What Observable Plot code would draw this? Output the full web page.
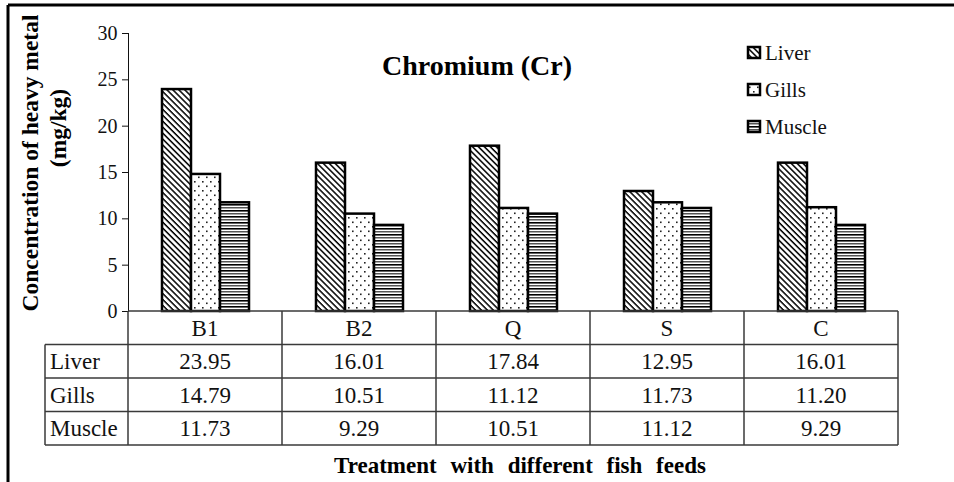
<!DOCTYPE html>
<html><head><meta charset="utf-8">
<script src="https://cdn.jsdelivr.net/npm/d3@7"></script>
<script src="https://cdn.jsdelivr.net/npm/@observablehq/plot@0.6"></script>
<style>body{margin:0;background:#fff;} svg{display:block}</style>
</head><body><div id="chart"></div>
<script>
const categories = ["B1", "B2", "Q", "S", "C"];
const organs = ["Liver", "Gills", "Muscle"];
const liver = [23.95, 16.01, 17.84, 12.95, 16.01];
const gills = [14.79, 10.51, 11.12, 11.73, 11.20];
const muscle = [11.73, 9.29, 10.51, 11.12, 9.29];
const yTicks = [0, 5, 10, 15, 20, 25, 30];
const titleText = "Chromium (Cr)";
const yLabel1 = "Concentration of heavy metal";
const yLabel2 = "(mg/kg)";
const xLabel = "Treatment with different fish feeds";

const series = [liver, gills, muscle];
const rows = categories.flatMap((c, i) => organs.map((o, j) => ({cat: c, organ: o, value: series[j][i]})));

const serif = "Liberation Serif, Times New Roman, serif";
const W = 954, H = 482;
const plot = Plot.plot({
  width: W, height: H,
  marginTop: 33, marginBottom: 171, marginLeft: 127, marginRight: 56,
  style: {fontFamily: serif, fontSize: "20px", color: "#111", background: "#fff", overflow: "visible"},
  facet: {data: rows, x: "cat"},
  fx: {domain: categories, padding: 0, axis: null},
  x: {domain: organs, paddingInner: 0, paddingOuter: 1.07, axis: null},
  y: {domain: [0, 30], ticks: yTicks, tickSize: 6, tickPadding: 5, label: null, line: true, tickFormat: d => d},
  color: {domain: organs, range: organs.map(o => `url(#pat-${o})`)},
  marks: [
    Plot.barY(rows, {x: "organ", y: "value", fill: "organ", stroke: "#000", strokeWidth: 2.5})
  ]
});
document.getElementById("chart").appendChild(plot);

const svg = d3.select(plot);
svg.selectAll("g[aria-label^='y-axis'] text").attr("font-size", 20).attr("font-family", serif).style("font-size", "20px");
svg.selectAll("g[aria-label^='y-axis']").attr("font-size", 20);

const defs = svg.insert("defs", ":first-child");
// Liver: diagonal hatching
let p = defs.append("pattern").attr("id", "pat-Liver").attr("patternUnits", "userSpaceOnUse")
  .attr("width", 4.2).attr("height", 4.2).attr("patternTransform", "rotate(45)");
p.append("rect").attr("width", 4.2).attr("height", 4.2).attr("fill", "#fff");
p.append("rect").attr("width", 4.2).attr("height", 1.5).attr("fill", "#000");
// Gills: sparse dots
p = defs.append("pattern").attr("id", "pat-Gills").attr("patternUnits", "userSpaceOnUse")
  .attr("width", 8).attr("height", 9);
p.append("rect").attr("width", 8).attr("height", 9).attr("fill", "#fff");
p.append("rect").attr("x", 1).attr("y", 1).attr("width", 1.6).attr("height", 1.6).attr("fill", "#222");
p.append("rect").attr("x", 5).attr("y", 5.5).attr("width", 1.6).attr("height", 1.6).attr("fill", "#222");
// Muscle: horizontal lines
p = defs.append("pattern").attr("id", "pat-Muscle").attr("patternUnits", "userSpaceOnUse")
  .attr("width", 6).attr("height", 6);
p.append("rect").attr("width", 6).attr("height", 6).attr("fill", "#fff");
p.append("rect").attr("y", 0).attr("width", 6).attr("height", 1.6).attr("fill", "#000");
p.append("rect").attr("y", 3).attr("width", 6).attr("height", 1.5).attr("fill", "#555");

const fx = plot.scale("fx"), y = plot.scale("y");
const bw = fx.bandwidth;
const left = fx.apply(categories[0]);
const right = fx.apply(categories[categories.length - 1]) + bw;
const yTop = y.apply(0);
const rowH = 33.5;
const firstColLeft = 45;
const g = svg.append("g");
const lineColor = "#3a3a3a";
const ln = (x1, y1, x2, y2) => g.append("line").attr("x1", x1).attr("y1", y1).attr("x2", x2).attr("y2", y2)
  .attr("stroke", lineColor).attr("stroke-width", 1.5);
ln(left, yTop, right, yTop);
for (let r = 1; r <= organs.length + 1; r++) ln(firstColLeft, yTop + r * rowH, right, yTop + r * rowH);
ln(firstColLeft, yTop + rowH, firstColLeft, yTop + (organs.length + 1) * rowH);
categories.forEach(c => ln(fx.apply(c), yTop, fx.apply(c), yTop + (organs.length + 1) * rowH));
ln(right, yTop, right, yTop + (organs.length + 1) * rowH);

const txt = (s, x, yy, anchor) => g.append("text").attr("x", x).attr("y", yy).attr("dy", "0.35em")
  .attr("text-anchor", anchor).attr("font-family", serif).attr("font-size", 23).attr("fill", "#111").text(s);
categories.forEach((c, i) => {
  const cx = fx.apply(c) + bw / 2;
  txt(c, cx, yTop + rowH / 2, "middle");
  series.forEach((s, j) => txt(s[i].toFixed(2), cx, yTop + (j + 1.5) * rowH, "middle"));
});
organs.forEach((o, j) => txt(o, firstColLeft + 5, yTop + (j + 1.5) * rowH, "start"));

// Title
svg.append("text").attr("x", 477).attr("y", 75).attr("text-anchor", "middle")
  .attr("font-family", serif).attr("font-weight", "bold").attr("font-size", 28).attr("fill", "#000").text(titleText);
// Y label
svg.append("text").attr("transform", "translate(30,163) rotate(-90)").attr("dy", "0.35em").attr("text-anchor", "middle")
  .attr("font-family", serif).attr("font-weight", "bold").attr("font-size", 23.5).attr("fill", "#000").text(yLabel1);
svg.append("text").attr("transform", "translate(58,128) rotate(-90)").attr("dy", "0.35em").attr("text-anchor", "middle")
  .attr("font-family", serif).attr("font-weight", "bold").attr("font-size", 23.5).attr("fill", "#000").text(yLabel2);
// X label
svg.append("text").attr("x", 520).attr("y", 473).attr("text-anchor", "middle").attr("word-spacing", 8)
  .attr("font-family", serif).attr("font-weight", "bold").attr("font-size", 23).attr("fill", "#000").text(xLabel);
// Legend
organs.forEach((o, j) => {
  const cy = 53 + j * 37;
  svg.append("rect").attr("x", 748).attr("y", cy - 6).attr("width", 12).attr("height", 11)
    .attr("fill", `url(#pat-${o})`).attr("stroke", "#000").attr("stroke-width", 2.5);
  svg.append("text").attr("x", 765).attr("y", cy).attr("dy", "0.35em").attr("text-anchor", "start")
    .attr("font-family", serif).attr("font-size", 21).attr("fill", "#111").text(o);
});
// Outer frame (top and left)
svg.append("line").attr("x1", 8).attr("y1", 5).attr("x2", W).attr("y2", 5).attr("stroke", "#000").attr("stroke-width", 3);
svg.append("line").attr("x1", 8).attr("y1", 5).attr("x2", 8).attr("y2", H).attr("stroke", "#000").attr("stroke-width", 3);
</script>
</body></html>
